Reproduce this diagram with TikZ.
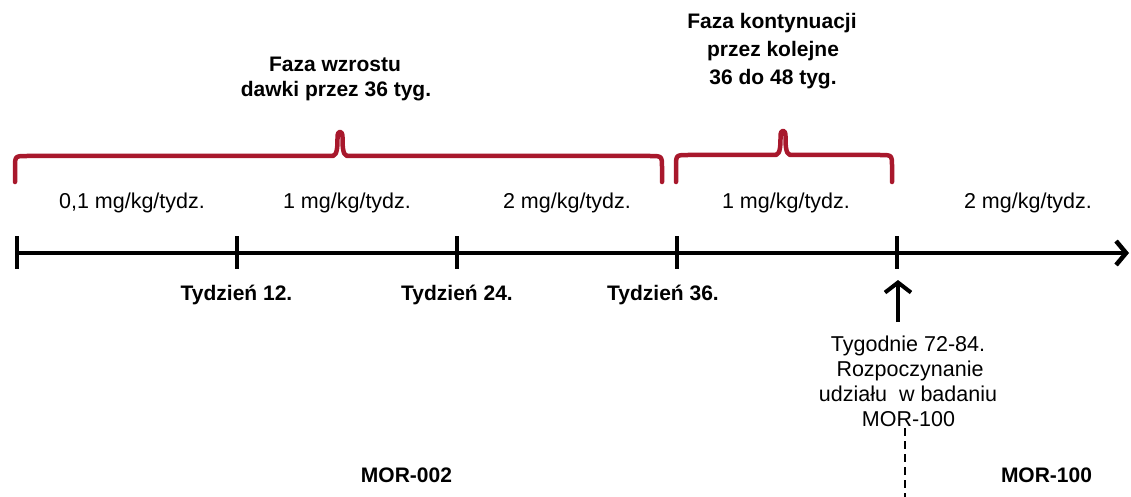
\documentclass[tikz,border=0pt]{standalone}
\usepackage{fontspec}
\setmainfont{Liberation Sans}
\usetikzlibrary{arrows.meta}
\definecolor{bracered}{RGB}{168,24,44}
\begin{document}
\begin{tikzpicture}[x=1pt,y=-1pt,
  reg/.style={font=\fontsize{21.5}{25}\selectfont, anchor=base, inner sep=0pt},
  bld/.style={font=\fontsize{21}{25}\selectfont\bfseries, anchor=base, inner sep=0pt},
  axisline/.style={line width=4.5pt},
  tickmark/.style={line width=4.3pt},
  bracestyle/.style={line width=4.5pt, draw=bracered, line cap=round, line join=round},
]
\useasboundingbox (0,0) rectangle (1131,497);

% axis
\coordinate (axstart) at (15,253);
\coordinate (axend) at (1129,253);
\draw[axisline,-{Straight Barb[length=10pt,width=24pt,line width=4.5pt]}] (axstart) -- (axend);
\foreach \x in {17,237,457,677,897} {
  \draw[tickmark] (\x,236) -- (\x,269);
}

% braces
\draw[bracestyle] (15,182) -- (15,168) .. controls (15,156) .. (27,156)
  -- (333,156) .. controls (337.5,155) and (337.5,145) .. (337.5,137)
  .. controls (337.5,130) and (342.5,130) .. (342.5,137)
  .. controls (342.5,145) and (342.5,155) .. (347,156)
  -- (650,156) .. controls (662,156) .. (662,168) -- (662,182);
\draw[bracestyle] (676,182) -- (676,167) .. controls (676,155) .. (688,155)
  -- (776,155) .. controls (780.5,154) and (780.5,144) .. (780.5,136)
  .. controls (780.5,129) and (785.5,129) .. (785.5,136)
  .. controls (785.5,144) and (785.5,154) .. (790,155)
  -- (880,155) .. controls (892,155) .. (892,167) -- (892,182);

% titles
\node[bld] (t1a) at (335,72) {Faza wzrostu};
\node[bld] (t1b) at (336,96.7) {dawki przez 36 tyg.};
\node[bld] (t2a) at (772,29) {Faza kontynuacji};
\node[bld] (t2b) at (773,57) {przez kolejne};
\node[bld] (t2c) at (773,85) {36 do 48 tyg.};

% doses
\node[reg] (d1) at (132,208) {0,1 mg/kg/tydz.};
\node[reg] (d2) at (347,208) {1 mg/kg/tydz.};
\node[reg] (d3) at (567,208) {2 mg/kg/tydz.};
\node[reg] (d4) at (786,208) {1 mg/kg/tydz.};
\node[reg] (d5) at (1028,208) {2 mg/kg/tydz.};

% tick labels
\node[bld] (w12) at (236.5,300.7) {Tydzień 12.};
\node[bld] (w24) at (457,300.7) {Tydzień 24.};
\node[bld] (w36) at (663,300.7) {Tydzień 36.};

% up arrow
\coordinate (upfrom) at (898,322);
\coordinate (upto) at (898,280);
\draw[line width=4pt,-{Straight Barb[length=10pt,width=26pt,line width=4pt]}] (upfrom) -- (upto);

% text block
\node[reg] (s1) at (908,351.7) {Tygodnie 72-84.};
\node[reg] (s2) at (910,376.7) {Rozpoczynanie};
\node[reg] (s3) at (908,401.7) {udziału\ \ w badaniu};
\node[reg] (s4) at (908.5,426.7) {MOR-100};

% dashed line
\coordinate (dtop) at (905,428);
\coordinate (dbot) at (905,497);
\draw[line width=2pt, dash pattern=on 8pt off 5pt] (dtop) -- (dbot);

% study labels
\node[bld] (m1) at (406.5,482) {MOR-002};
\node[bld] (m2) at (1046.5,482) {MOR-100};
\end{tikzpicture}
\end{document}
